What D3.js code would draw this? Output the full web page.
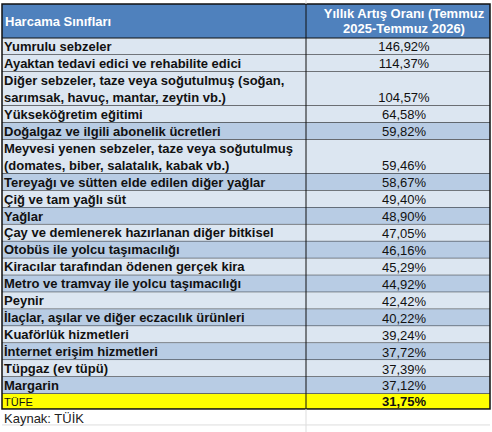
<!DOCTYPE html>
<html><head><meta charset="utf-8">
<script src="https://cdn.jsdelivr.net/npm/d3@7"></script>
<style>body{margin:0;background:#fff}</style></head><body>
<script>
const header = ["Harcama Sınıfları", ["Yıllık Artış Oranı (Temmuz", "2025-Temmuz 2026)"]];
const categories = [
 ["Yumrulu sebzeler"],
 ["Ayaktan tedavi edici ve rehabilite edici"],
 ["Diğer sebzeler, taze veya soğutulmuş (soğan,", "sarımsak, havuç, mantar, zeytin vb.)"],
 ["Yükseköğretim eğitimi"],
 ["Doğalgaz ve ilgili abonelik ücretleri"],
 ["Meyvesi yenen sebzeler, taze veya soğutulmuş", "(domates, biber, salatalık, kabak vb.)"],
 ["Tereyağı ve sütten elde edilen diğer yağlar"],
 ["Çiğ ve tam yağlı süt"],
 ["Yağlar"],
 ["Çay ve demlenerek hazırlanan diğer bitkisel"],
 ["Otobüs ile yolcu taşımacılığı"],
 ["Kiracılar tarafından ödenen gerçek kira"],
 ["Metro ve tramvay ile yolcu taşımacılığı"],
 ["Peynir"],
 ["İlaçlar, aşılar ve diğer eczacılık ürünleri"],
 ["Kuaförlük hizmetleri"],
 ["İnternet erişim hizmetleri"],
 ["Tüpgaz (ev tüpü)"],
 ["Margarin"]
];
const values = ["146,92%","114,37%","104,57%","64,58%","59,82%","59,46%","58,67%","49,40%","48,90%","47,05%","46,16%","45,29%","44,92%","42,42%","40,22%","39,24%","37,72%","37,39%","37,12%"];
const totalLabel = "TÜFE", totalValue = "31,75%";
const source = "Kaynak: TÜİK";

const W=492,H=432, x0=2, xm=306, x1=490, topY=4, hh=34, rh=16.95;
const svg=d3.select("body").append("svg").attr("width",W).attr("height",H)
  .style("font-family","'Liberation Sans',Arial,sans-serif");
svg.append("rect").attr("x",x0).attr("y",topY).attr("width",x1-x0).attr("height",hh).attr("fill","#4f81bd");
svg.append("text").attr("x",x0+3).attr("y",topY+22).attr("fill","#fff").attr("font-weight","bold").attr("font-size",13).text(header[0]);
header[1].forEach((t,i)=>svg.append("text").attr("x",(xm+x1)/2+6).attr("y",topY+14+i*15).attr("text-anchor","middle").attr("fill","#fff").attr("font-weight","bold").attr("font-size",13).text(t));
let y=topY+hh;
const ys=[];
categories.forEach((c,i)=>{const h=rh*c.length; ys.push([y,h]); y+=h;});
const g=svg.selectAll("g.row").data(categories).join("g");
g.each(function(c,i){
  const [yy,h]=ys[i]; const s=d3.select(this);
  const dark = i>=4 && i%2===0;
  s.append("rect").attr("x",x0).attr("y",yy).attr("width",x1-x0).attr("height",h).attr("fill",dark?"#b8cce4":"#dce6f1");
  c.forEach((t,j)=>s.append("text").attr("x",x0+2).attr("y",yy+13+j*rh).attr("font-weight","bold").attr("font-size",13).attr("fill","#111").text(t));
  s.append("text").attr("x",(xm+x1)/2+6).attr("y",yy+h-3.5).attr("text-anchor","middle").attr("font-size",13).attr("fill","#111").text(values[i]);
  s.append("line").attr("x1",x0).attr("x2",x1).attr("y1",yy+h).attr("y2",yy+h).attr("stroke","#111");
});
svg.append("rect").attr("x",x0).attr("y",y).attr("width",x1-x0).attr("height",15).attr("fill","#ffff00");
svg.append("text").attr("x",x0+2).attr("y",y+12).attr("font-size",11).attr("fill","#111").text(totalLabel);
svg.append("text").attr("x",(xm+x1)/2+6).attr("y",y+12).attr("text-anchor","middle").attr("font-weight","bold").attr("font-size",13).attr("fill","#111").text(totalValue);
const yb=y+15;
svg.append("rect").attr("x",x0).attr("y",topY).attr("width",x1-x0).attr("height",yb-topY).attr("fill","none").attr("stroke","#111").attr("stroke-width",1.5);
svg.append("line").attr("x1",xm).attr("x2",xm).attr("y1",topY).attr("y2",yb).attr("stroke","#111");
svg.append("line").attr("x1",x0).attr("x2",x1).attr("y1",topY+hh).attr("y2",topY+hh).attr("stroke","#111");
svg.append("line").attr("x1",xm).attr("x2",xm).attr("y1",yb).attr("y2",H).attr("stroke","#ddd");
svg.append("line").attr("x1",x0).attr("x2",x1).attr("y1",yb+16).attr("y2",yb+16).attr("stroke","#ddd");
svg.append("line").attr("x1",xm).attr("x2",xm).attr("y1",0).attr("y2",topY).attr("stroke","#ddd");
svg.append("text").attr("x",x0+2).attr("y",yb+14).attr("font-size",13).attr("fill","#222").text(source);
</script></body></html>
